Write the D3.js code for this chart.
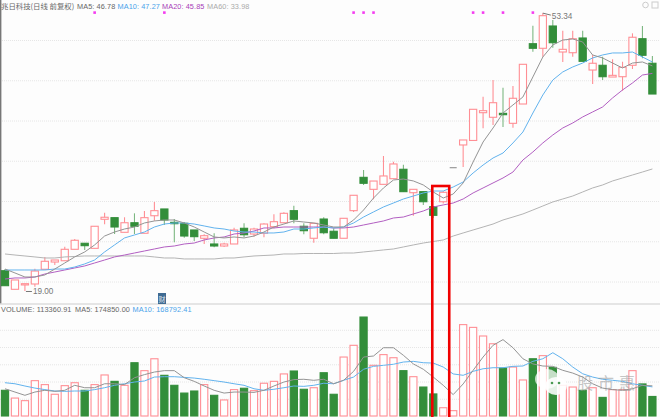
<!DOCTYPE html>
<html>
<head>
<meta charset="utf-8">
<script src="https://cdnjs.cloudflare.com/ajax/libs/d3/7.8.5/d3.min.js"></script>
<style>
    html, body { margin: 0; padding: 0; background: #fdfdfd; overflow: hidden; }
    text { font-family: "Liberation Sans", sans-serif; }
    .grid .domain { display: none; }
    .grid line { stroke: #e6e6e6; stroke-dasharray: 1,1; }
</style>
</head>
<body>
<div id="chart"></div>
<script>
// daily candles
const opens = [21.34,19.03,19.57,19.69,21.52,22.42,22.58,24.0,24.75,24.12,27.73,27.93,26.11,27.30,25.99,28.17,29.01,27.35,27.23,26.4,25.37,24.66,24.41,24.66,26.61,25.9,25.99,26.81,27.3,28.8,26.86,25.37,27.76,26.24,25.37,28.8,32.94,31.45,32.07,32.77,33.94,31.03,31.16,29.29,29.91,34.14,36.96,37.52,40.97,40.4,40.89,39.65,42.05,49.54,48.97,51.74,48.51,48.42,50.25,46.27,46.86,45.4,45.44,46.86,50.16,47.11];
const closes = [19.48,20.19,19.73,21.30,22.51,22.67,24.0,25.12,24.45,26.86,27.98,26.77,27.30,26.86,27.93,28.80,27.64,27.18,25.65,25.57,25.69,24.41,24.66,26.4,25.81,26.52,27.14,27.43,28.47,27.73,26.31,27.23,26.06,25.37,27.85,30.71,32.2,32.48,33.11,34.6,31.16,31.45,29.91,28.22,31.08,34.14,37.58,41.39,41.22,42.21,40.72,42.76,46.98,48.97,53.02,49.66,48.84,50.16,47.35,47.11,45.44,45.61,46.61,50.34,48.1,43.29];
const highs = [21.55,20.19,19.73,21.59,23.04,22.67,24.32,25.28,24.75,26.86,28.55,27.93,27.98,28.47,28.76,29.88,29.01,27.76,27.4,26.4,25.86,25.99,24.8,26.68,27.23,26.68,27.23,28.35,28.6,29.42,27.23,27.23,27.98,26.61,27.85,30.71,33.85,32.48,35.59,34.88,34.51,31.5,31.2,29.29,31.2,34.14,37.58,41.39,42.96,45.03,44.07,44.29,46.98,51.78,53.34,52.48,51.16,51.16,51.16,48.14,47.93,47.6,47.3,50.83,51.74,48.01];
const lows = [19.48,19.03,18.82,19.35,21.52,22.05,22.58,24.0,23.91,24.12,27.11,25.9,26.11,25.9,25.99,27.55,27.02,24.87,25.44,25.03,24.66,24.25,24.3,24.66,25.49,25.57,25.49,26.61,27.3,27.23,25.86,24.82,25.86,25.37,25.37,28.63,31.99,30.21,32.07,32.77,31.16,28.17,29.5,27.9,29.7,34.14,34.22,37.52,39.03,39.44,39.19,39.11,42.05,48.55,47.93,49.04,47.27,47.93,47.35,44.53,45.03,45.4,43.7,46.4,47.73,43.29];

// moving averages of the price
const ma5 = [21.55,21.06,20.56,20.56,20.81,21.55,22.30,23.05,23.67,24.54,25.65,26.15,26.52,26.77,27.27,27.52,27.64,27.64,27.27,26.77,26.15,25.53,25.41,25.53,25.41,25.65,26.15,26.77,27.14,27.52,27.39,27.27,27.02,26.77,26.77,27.64,28.88,30.37,31.62,32.61,32.73,32.49,31.99,31.12,30.37,30.87,32.24,34.85,37.33,39.07,40.93,41.93,42.92,45.41,47.89,49.38,50.0,50.13,49.75,48.14,47.77,47.14,46.52,47.14,47.27,46.78];
const ma10 = [21.43,21.43,21.43,21.43,21.43,21.55,21.55,21.80,22.18,22.67,23.67,24.54,25.41,25.78,26.15,26.77,27.14,27.27,27.27,27.14,26.90,26.65,26.52,26.27,26.15,26.15,26.03,26.03,26.15,26.52,26.52,26.65,26.77,26.65,26.77,27.27,28.01,28.64,29.26,29.75,30.25,30.62,31.0,31.24,31.24,31.74,32.36,33.48,34.47,35.34,35.96,37.21,38.57,40.93,43.17,45.03,46.03,46.65,47.14,47.77,48.14,48.39,48.39,48.51,47.89,47.27];
const ma20 = [20.31,20.44,20.44,20.56,20.93,21.18,21.43,21.68,21.93,22.30,22.67,23.05,23.29,23.54,23.79,24.04,24.29,24.41,24.66,24.78,25.16,25.41,25.53,25.90,26.03,26.27,26.65,26.65,26.77,26.77,26.77,26.77,26.77,26.65,26.65,26.77,27.02,27.27,27.52,27.89,28.01,28.39,28.76,29.26,29.51,29.75,30.25,31.0,31.62,32.24,32.86,33.60,35.09,36.09,37.21,38.2,39.07,39.69,40.44,41.06,41.68,42.80,43.79,44.66,45.65,45.85];
const ma60 = [23.42,23.29,23.17,23.05,22.92,22.92,23.05,23.11,23.17,23.17,23.17,23.17,23.17,23.17,23.17,23.05,22.92,22.92,22.80,22.80,22.80,22.80,22.92,22.92,23.05,23.17,23.23,23.29,23.42,23.42,23.48,23.48,23.48,23.48,23.54,23.54,23.67,23.79,23.92,24.04,24.29,24.54,24.78,24.97,25.16,25.65,26.03,26.40,26.77,27.14,27.64,28.01,28.39,28.88,29.38,29.88,30.25,30.62,31.12,31.62,31.99,32.49,32.86,33.23,33.60,33.98];

// volume in thousands
const volumes = [149,104,89,205,182,126,176,193,149,182,238,201,178,309,263,332,236,178,133,145,182,120,93,153,161,147,190,201,244,261,155,164,251,126,342,410,574,294,356,338,263,228,168,128,48,31,530,514,464,419,278,284,209,332,350,282,178,168,149,164,108,153,153,263,186,113.36];
const volMa5 = [158,139,120,139,149,143,149,178,164,164,187,187,182,222,240,255,263,263,222,201,174,149,133,139,139,137,149,174,197,211,213,207,213,187,207,259,342,348,396,396,352,302,271,226,178,124,186,265,342,410,443,396,332,302,290,288,265,249,226,187,162,153,149,158,178,174.85];
const volMa10 = [193,187,174,162,153,145,143,145,145,153,164,178,187,197,203,226,228,228,224,220,213,205,197,187,178,158,149,155,164,174,172,178,190,187,207,226,271,288,294,300,313,317,309,307,284,244,236,259,274,280,280,288,290,317,332,367,332,284,245,226,213,207,201,187,178,168.79];

const priceGrid = [50, 45, 40, 35, 30, 25, 20];
const volumeGrid = [100, 200, 300, 400, 500];
const signalDays = [9, 16, 35, 36, 37, 47, 48, 50, 53]; // the pink dots along the top

const titleRow = [
    { text: "兆日科技(日线 前复权)", x: 1, color: "#666", cjk: true },
    { text: "MA5: 46.78", x: 77, color: "#666" },
    { text: "MA10: 47.27", x: 117.5, color: "#4aa3ea" },
    { text: "MA20: 45.85", x: 162, color: "#a83db8" },
    { text: "MA60: 33.98", x: 207, color: "#aaa" }
];
const volumeRow = [
    { text: "VOLUME: 113360.91", x: 1, color: "#666" },
    { text: "MA5: 174850.00", x: 75, color: "#666" },
    { text: "MA10: 168792.41", x: 132.5, color: "#4aa3ea" }
];

const width = 660, height = 417;
const upColor = "#ff8f95", downColor = "#338e3a", flatColor = "#999";

const svg = d3.select("#chart").append("svg")
    .attr("width", width)
    .attr("height", height)
    .style("display", "block");

const x = d3.scaleLinear().domain([0, opens.length - 1]).range([5, 652.4]);
const y = d3.scaleLinear().domain([50, 20]).range([40, 281.5]);
const yVol = d3.scaleLinear().domain([0, 580]).range([416, 316]);

// grid
svg.append("g").attr("class", "grid")
    .call(d3.axisRight(y).tickValues(priceGrid).tickSize(width).tickFormat(""));
svg.append("g").attr("class", "grid")
    .call(d3.axisRight(yVol).tickValues(volumeGrid).tickSize(width).tickFormat(""));

// frame
svg.append("line").attr("x1", 0.7).attr("x2", 0.7).attr("y1", 0).attr("y2", 304)
    .attr("stroke", "#777").attr("stroke-width", 1.4);
svg.append("line").attr("x1", 0).attr("x2", width).attr("y1", 304).attr("y2", 304)
    .attr("stroke", "#ddd").attr("stroke-width", 1.5);

// candles
const candleColor = i => closes[i] > opens[i] ? upColor : (closes[i] < opens[i] ? downColor : flatColor);
const candles = svg.append("g").selectAll("g").data(d3.range(opens.length)).join("g");

candles.append("line")
    .attr("x1", i => x(i)).attr("x2", i => x(i))
    .attr("y1", i => y(highs[i])).attr("y2", i => y(lows[i]))
    .attr("stroke", i => closes[i] < opens[i] ? "#7db882" : upColor)
    .attr("stroke-width", 1.1);

candles.filter(i => closes[i] === opens[i]).append("line")
    .attr("x1", i => x(i) - 3.5).attr("x2", i => x(i) + 3.5)
    .attr("y1", i => y(opens[i])).attr("y2", i => y(opens[i]))
    .attr("stroke", flatColor).attr("stroke-width", 1.2);

candles.filter(i => closes[i] !== opens[i]).append("rect")
    .attr("x", i => x(i) - 3.6)
    .attr("y", i => y(Math.max(opens[i], closes[i])))
    .attr("width", 7.2)
    .attr("height", i => Math.abs(y(opens[i]) - y(closes[i])))
    .attr("fill", i => closes[i] > opens[i] ? "#fff" : downColor)
    .attr("stroke", candleColor)
    .attr("stroke-width", 1.1);

// moving averages
const line = d3.line().x((d, i) => x(i));
const drawLine = (values, scale, color) => svg.append("path")
    .attr("d", line.y(d => scale(d))(values))
    .attr("fill", "none")
    .attr("stroke", color)
    .attr("stroke-width", 1);

drawLine(ma60, y, "#b4b4b4");
drawLine(ma20, y, "#b25fc2");
drawLine(ma10, y, "#62b3ee");
drawLine(ma5, y, "#949494");

// volume bars
svg.append("g").selectAll("rect").data(volumes).join("rect")
    .attr("x", (d, i) => x(i) - 3.6)
    .attr("y", d => yVol(d))
    .attr("width", 7.2)
    .attr("height", d => yVol(0) - yVol(d))
    .attr("fill", (d, i) => closes[i] >= opens[i] ? "#fff" : downColor)
    .attr("stroke", (d, i) => closes[i] >= opens[i] ? upColor : downColor)
    .attr("stroke-width", 1.1);

drawLine(volMa10, yVol, "#62b3ee");
drawLine(volMa5, yVol, "#949494");

// signal dots
svg.append("g").selectAll("rect").data(signalDays).join("rect")
    .attr("x", d => x(d) - 1.3)
    .attr("y", 11.3)
    .attr("width", 2.6)
    .attr("height", 2.6)
    .attr("fill", "#f43cf0");

// high / low labels
const lowDay = lows.indexOf(d3.min(lows));
const highDay = highs.indexOf(d3.max(highs));
svg.append("line")
    .attr("x1", x(lowDay) + 1).attr("x2", x(lowDay) + 7)
    .attr("y1", y(lows[lowDay]) + 0.5).attr("y2", y(lows[lowDay]) + 0.5)
    .attr("stroke", "#777");
svg.append("text").attr("x", x(lowDay) + 8).attr("y", y(lows[lowDay]) + 3.5)
    .attr("fill", "#777").attr("font-size", 8.2).text("19.00");
svg.append("line")
    .attr("x1", x(highDay)).attr("x2", x(highDay) + 8)
    .attr("y1", y(highs[highDay])).attr("y2", y(highs[highDay]) + 2)
    .attr("stroke", "#777");
svg.append("text").attr("x", x(highDay) + 9).attr("y", y(highs[highDay]) + 6)
    .attr("fill", "#777").attr("font-size", 8.2).text("53.34");

// header rows
const drawRow = (row, top) => svg.append("g").selectAll("text").data(row).join("text")
    .attr("x", d => d.x)
    .attr("y", top)
    .attr("fill", d => d.color)
    .attr("font-size", d => d.cjk ? 7.4 : 7.3)
    .attr("letter-spacing", d => d.cjk ? 0 : 0.1)
    .style("font-family", d => d.cjk ? '"Noto Sans CJK SC", sans-serif' : null)
    .text(d => d.text);
drawRow(titleRow, 9);
drawRow(volumeRow, 312);

// small "财" badge
svg.append("rect").attr("x", 158).attr("y", 293).attr("width", 8).attr("height", 11).attr("fill", "#3f6a92");
svg.append("text").attr("x", 162).attr("y", 301.5).attr("text-anchor", "middle")
    .attr("font-size", 7).attr("fill", "#dfe8f0")
    .style("font-family", '"Noto Sans CJK SC", sans-serif').text("财");

// top right toolbar glyphs
svg.append("circle").attr("cx", 645.5).attr("cy", 5).attr("r", 2.8)
    .attr("fill", "none").attr("stroke", "#ccc");
svg.append("rect").attr("x", 652).attr("y", 2).attr("width", 6).attr("height", 6)
    .attr("fill", "none").attr("stroke", "#ccc");

// watermark
const mark = svg.append("g");
mark.append("ellipse").attr("cx", 547).attr("cy", 379).attr("rx", 12).attr("ry", 10).attr("fill", "#fff").attr("opacity", 0.72);
mark.append("ellipse").attr("cx", 556).attr("cy", 386).attr("rx", 11).attr("ry", 9).attr("fill", "#fff").attr("opacity", 0.88);
[[552, 383], [559, 383]].forEach(p => {
    mark.append("circle").attr("cx", p[0]).attr("cy", p[1]).attr("r", 1.3).attr("fill", "#4b9a52");
});
mark.append("text").attr("x", 577).attr("y", 389).attr("font-size", 16)
    .attr("letter-spacing", 5).attr("fill", "#999").attr("opacity", 0.55)
    .style("font-family", '"Noto Sans CJK SC", sans-serif').text("股市惠");

// the red box around the two candles
const boxDays = [43, 44];
svg.append("rect")
    .attr("x", x(boxDays[0]) - 1)
    .attr("y", 186)
    .attr("width", x(boxDays[1]) - x(boxDays[0]) + 7)
    .attr("height", 240)
    .attr("fill", "none")
    .attr("stroke", "#f00000")
    .attr("stroke-width", 2.6);
</script>
</body>
</html>
